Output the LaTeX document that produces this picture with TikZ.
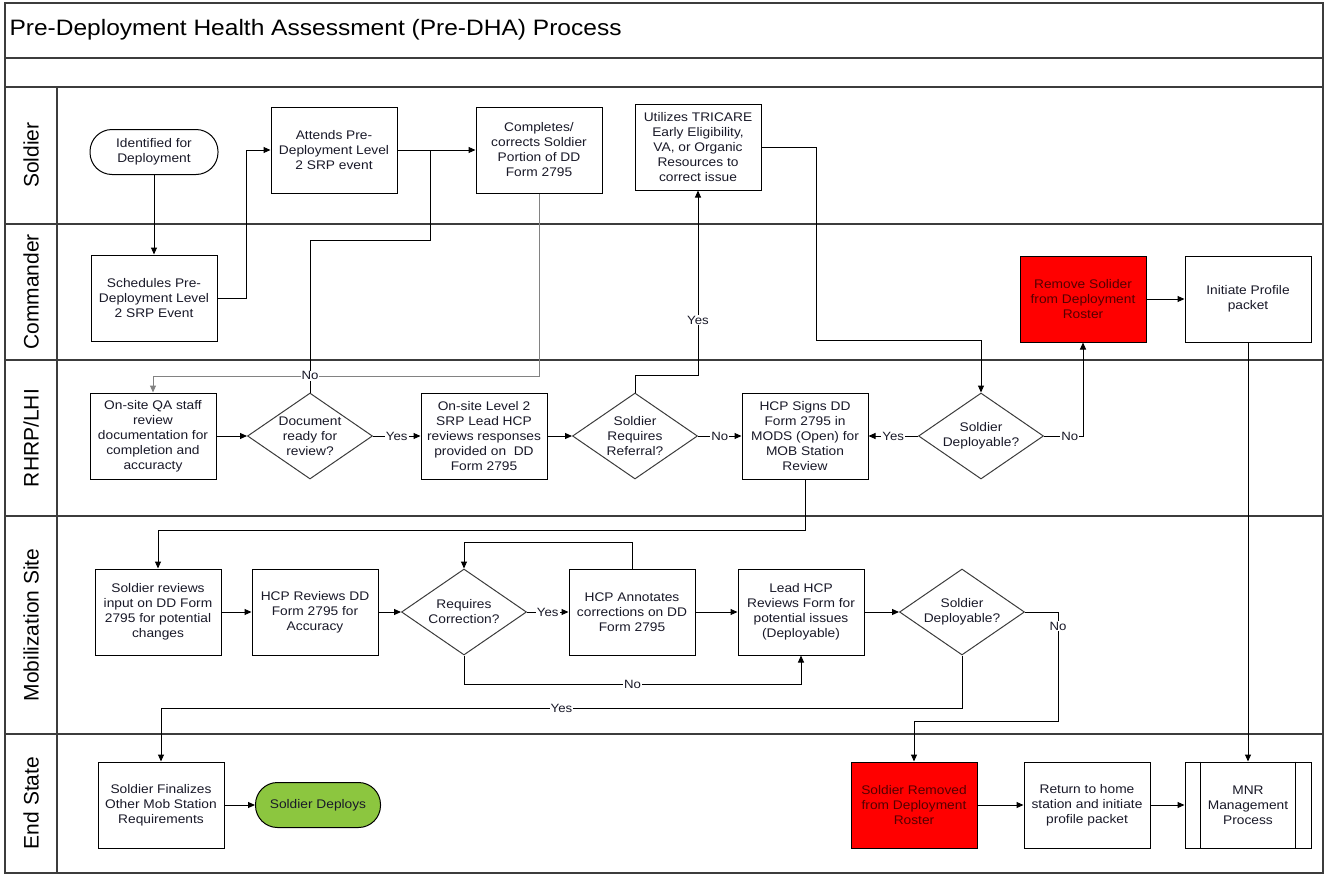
\documentclass[tikz,border=0pt]{standalone}
\usepackage{fontspec}
\setmainfont{Liberation Sans}[FakeStretch=1.1]
\newfontfamily\lanefont{Liberation Sans}
\usetikzlibrary{shapes.geometric,arrows.meta}

\definecolor{txt}{RGB}{25,25,40}
\definecolor{framec}{RGB}{60,60,60}
\definecolor{stopred}{RGB}{255,0,0}
\definecolor{stoptxt}{RGB}{85,0,0}
\definecolor{goodgreen}{RGB}{140,198,63}
\definecolor{thin}{RGB}{130,130,130}

\begin{document}
\begin{tikzpicture}[x=1pt,y=-1pt,
  every node/.style={font=\fontsize{12.5}{15}\selectfont, text=txt},
  proc/.style={draw=black, line width=1pt, minimum width=126pt, minimum height=86pt,
    inner sep=0pt, align=center},
  term/.style={draw=black, line width=1pt, rounded corners=22pt, minimum width=128pt,
    minimum height=45pt, inner sep=0pt, align=center},
  dec/.style={diamond, aspect=1.45, draw=framec, line width=1pt, minimum width=125pt,
    minimum height=86pt, inner sep=0pt, align=center},
  stopbox/.style={proc, fill=stopred, text=stoptxt},
  lane/.style={rotate=90, font=\lanefont\fontsize{21}{24}\selectfont, text=black},
  lbl/.style={fill=white, inner sep=1pt, font=\fontsize{12}{14}\selectfont},
  flow/.style={draw=black, line width=1pt, -{Triangle[length=7pt,width=6pt]}},
  link/.style={draw=black, line width=1pt},
  frame/.style={draw=framec, line width=1.2pt}]

\useasboundingbox (0,0) rectangle (1327,875);

% pool frame, title rows and swimlanes
\draw[frame] (5,3) rectangle (1323,873);
\draw[frame] (5,58) -- (1323,58);
\draw[frame] (5,87) -- (1323,87);
\draw[frame] (5,224) -- (1323,224);
\draw[frame] (5,360) -- (1323,360);
\draw[frame] (5,516) -- (1323,516);
\draw[frame] (5,734) -- (1323,734);
\draw[frame] (57,87) -- (57,873);

\node[anchor=west, font=\fontsize{22.3}{26}\selectfont, text=black] (title) at (6,30)
  {Pre-Deployment Health Assessment (Pre-DHA) Process};

\node[lane] (lsoldier) at (31,155) {Soldier};
\node[lane] (lcommander) at (31,292) {Commander};
\node[lane] (lrhrp) at (31,438) {RHRP/LHI};
\node[lane] (lmob) at (31,625) {Mobilization Site};
\node[lane] (lend) at (31,803) {End State};

% Soldier lane
\node[term] (ident) at (154,152) {Identified for\\Deployment};
\node[proc] (attend) at (334,150) {Attends Pre-\\Deployment Level\\2 SRP event};
\node[proc] (compl) at (539,150) {Completes/\\corrects Soldier\\Portion of DD\\Form 2795};
\node[proc] (tricare) at (698,147) {Utilizes TRICARE\\Early Eligibility,\\VA, or Organic\\Resources to\\correct issue};

% Commander lane
\node[proc] (sched) at (154,298) {Schedules Pre-\\Deployment Level\\2 SRP Event};
\node[stopbox] (remove) at (1083,299) {Remove Solider\\from Deployment\\Roster};
\node[proc] (initp) at (1248,299) {Initiate Profile\\packet};

% RHRP/LHI lane
\node[proc] (qa) at (153,436) {On-site QA staff\\review\\documentation for\\completion and\\accuracty};
\node[dec] (docready) at (310,436) {Document\\ready for\\review?};
\node[proc] (lead2) at (484,436) {On-site Level 2\\SRP Lead HCP\\reviews responses\\provided on~~DD\\Form 2795};
\node[dec] (referral) at (635,436) {Soldier\\Requires\\Referral?};
\node[proc] (signs) at (805,436) {HCP Signs DD\\Form 2795 in\\MODS (Open) for\\MOB Station\\Review};
\node[dec] (deploy1) at (981,436) {Soldier\\Deployable?};

% Mobilization Site lane
\node[proc] (sreview) at (158,612) {Soldier reviews\\input on DD Form\\2795 for potential\\changes};
\node[proc] (hcprev) at (315,612) {HCP Reviews DD\\Form 2795 for\\Accuracy};
\node[dec] (reqcorr) at (464,612) {Requires\\Correction?};
\node[proc] (annot) at (632,612) {HCP Annotates\\corrections on DD\\Form 2795};
\node[proc] (leadrev) at (801,612) {Lead HCP\\Reviews Form for\\potential issues\\(Deployable)};
\node[dec] (deploy2) at (962,612) {Soldier\\Deployable?};

% End State lane
\node[proc] (final) at (161,805) {Soldier Finalizes\\Other Mob Station\\Requirements};
\node[term, fill=goodgreen, minimum width=125pt] (deploys) at (318,805) {Soldier Deploys};
\node[stopbox] (removed) at (914,805) {Soldier Removed\\from Deployment\\Roster};
\node[proc] (home) at (1087,805) {Return to home\\station and initiate\\profile packet};
\node[proc] (mnr) at (1248,805) {MNR\\Management\\Process};
\draw[link] ([xshift=16pt]mnr.north west) -- ([xshift=16pt]mnr.south west);
\draw[link] ([xshift=-16pt]mnr.north east) -- ([xshift=-16pt]mnr.south east);

\coordinate (junc1) at (430,150);

% connectors
\draw[flow] (ident.south) -- (sched.north);
\draw[flow] (sched.east) -- ++(29,0) |- (attend.west);
\draw[flow] (attend.east) -- (compl.west);
\draw[flow, draw=thin] (compl.south) -- ++(0,183) -| (qa.north);
\draw[link] (docready.north) -- node[lbl, pos=0.11] (noa) {No} ++(0,-152) -| (junc1);
\draw[flow] (qa.east) -- (docready.west);
\draw[flow] (docready.east) -- node[lbl] (yesa) {Yes} (lead2.west);
\draw[flow] (lead2.east) -- (referral.west);
\draw[flow] (referral.north) -- ++(0,-17) -| node[lbl, pos=0.65] (yesb) {Yes} (tricare.south);
\draw[flow] (referral.east) -- node[lbl] (nob) {No} (signs.west);
\draw[flow] (tricare.east) -- ++(55,0) -- ++(0,193) -| (deploy1.north);
\draw[flow] (deploy1.west) -- node[lbl] (yesc) {Yes} (signs.east);
\draw[flow] (deploy1.east) -| node[lbl, pos=0.33] (noc) {No} (remove.south);
\draw[flow] (remove.east) -- (initp.west);
\draw[flow] (initp.south) -- (mnr.north);
\draw[flow] (signs.south) -- ++(0,51) -| (sreview.north);
\draw[flow] (sreview.east) -- (hcprev.west);
\draw[flow] (hcprev.east) -- (reqcorr.west);
\draw[flow] (reqcorr.east) -- node[lbl] (yesd) {Yes} (annot.west);
\draw[flow] (annot.north) -- ++(0,-26) -| (reqcorr.north);
\draw[flow] (reqcorr.south) -- ++(0,29) -| node[lbl, pos=0.25] (nod) {No} (leadrev.south);
\draw[flow] (annot.east) -- (leadrev.west);
\draw[flow] (leadrev.east) -- (deploy2.west);
\draw[flow] (deploy2.south) -- ++(0,53) -| node[lbl, pos=0.25] (yese) {Yes} (final.north);
\draw[flow] (deploy2.east) -- ++(33,0) -- node[lbl, pos=0.13] (noe) {No} ++(0,109) -| (removed.north);
\draw[flow] (final.east) -- (deploys.west);
\draw[flow] (removed.east) -- (home.west);
\draw[flow] (home.east) -- (mnr.west);

\end{tikzpicture}
\end{document}
